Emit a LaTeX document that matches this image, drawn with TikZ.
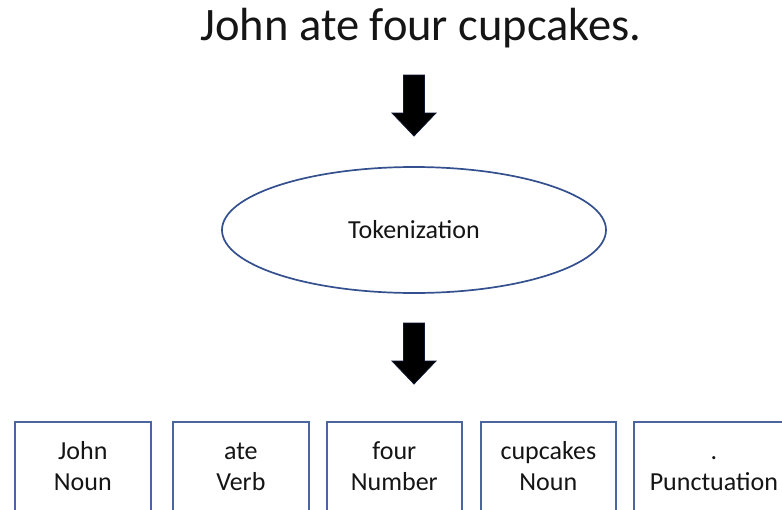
\documentclass[tikz,border=0pt]{standalone}
\usepackage{fontspec}
\setmainfont{Carlito}
\usetikzlibrary{shapes.geometric}
\definecolor{boxblue}{HTML}{4A65A0}
\definecolor{ellblue}{HTML}{34508E}
\definecolor{inkblack}{HTML}{151515}
\definecolor{arrowedge}{HTML}{101833}
% two-line token label: word over its tag, with equal line heights
\newcommand{\toklabel}[2]{\strut#1\\#2\strut}
\begin{document}
\begin{tikzpicture}[x=1pt,y=-1pt,
  tokenbox/.style={draw=boxblue,line width=1.7pt,anchor=north west,
    minimum height=93pt,inner sep=0pt,align=center,
    font=\fontsize{26}{31}\selectfont,text=inkblack},
  stage/.style={draw=ellblue,line width=1.7pt,ellipse,inner sep=0pt,
    minimum width=384pt,minimum height=126pt,
    font=\fontsize{26}{30}\selectfont,text=inkblack},
  downarrow/.pic={
    \fill[black,draw=arrowedge,line width=0.8pt]
      (-10.5,0) -- (10.5,0) -- (10.5,38) -- (22,38) -- (0,61)
      -- (-22,38) -- (-10.5,38) -- cycle;
  }]
  \clip (0,0) rectangle (782,509);
  \fill[white] (0,0) rectangle (782,509);

  % sentence to be tokenized
  \node[anchor=base,inner sep=0pt,font=\fontsize{46.5}{52}\selectfont,text=inkblack]
    (sentence) at (421,40) {John ate four cupcakes.};

  \pic at (414,75) {downarrow};

  % tokenizer stage
  \node[stage] (tok) at (414,230) {Tokenization};

  \pic at (414,323) {downarrow};

  % resulting tokens with their tags
  \node[tokenbox,minimum width=136pt] (t1) at (14,421) {\toklabel{John}{Noun}};
  \node[tokenbox,minimum width=136pt] (t2) at (172,421) {\toklabel{ate}{Verb}};
  \node[tokenbox,minimum width=135pt] (t3) at (326,421) {\toklabel{four}{Number}};
  \node[tokenbox,minimum width=135pt] (t4) at (480,421) {\toklabel{cupcakes}{Noun}};
  \node[tokenbox,minimum width=160pt] (t5) at (633,421) {\toklabel{.}{Punctuation}};
\end{tikzpicture}
\end{document}
